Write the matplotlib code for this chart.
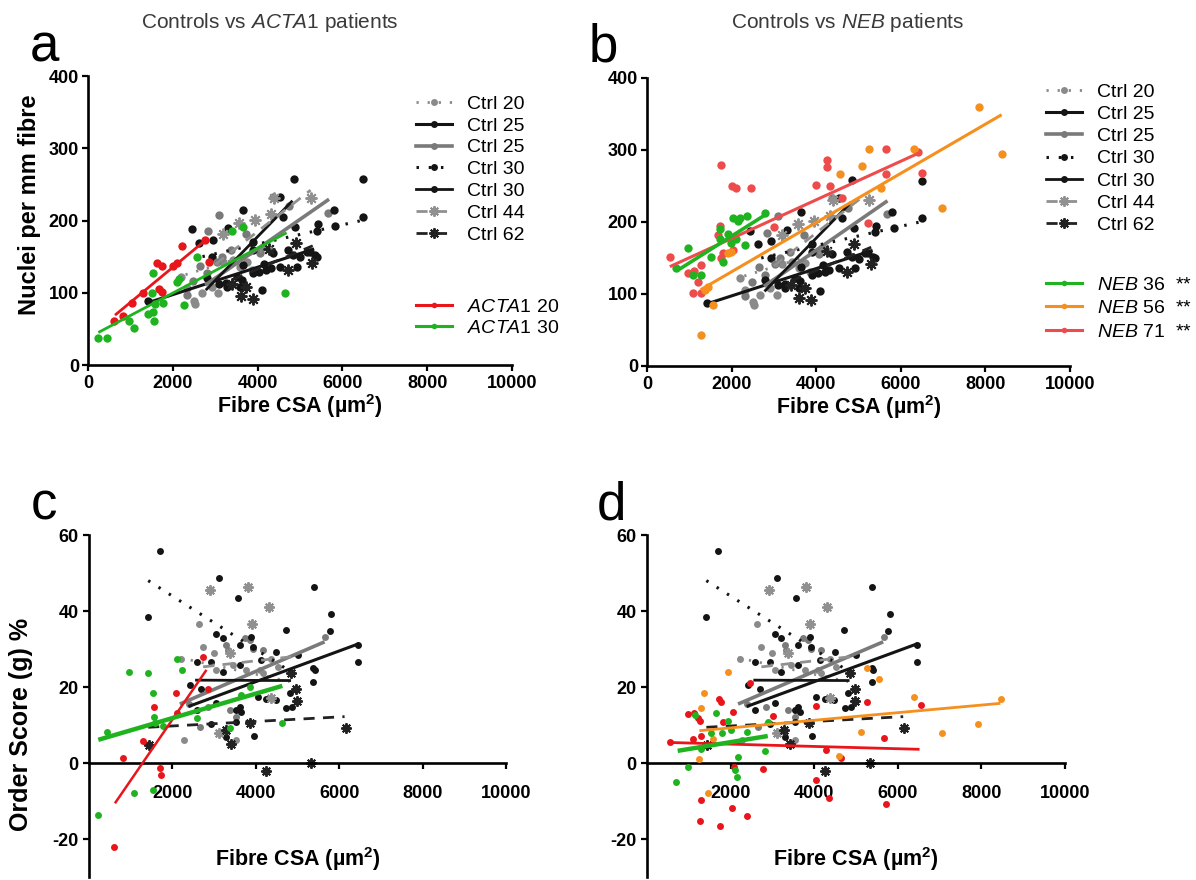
import matplotlib
matplotlib.use("Agg")
import matplotlib.pyplot as plt
from matplotlib.lines import Line2D

plt.rcParams['font.family'] = ['Liberation Sans', 'DejaVu Sans']
plt.rcParams['mathtext.fontset'] = 'custom'
plt.rcParams['mathtext.it'] = 'Liberation Sans:italic'
plt.rcParams['mathtext.rm'] = 'Liberation Sans'
plt.rcParams['mathtext.bf'] = 'Liberation Sans:bold'
plt.rcParams['axes.unicode_minus'] = False

# ---------------- Panel a/b : nuclei per mm fibre vs fibre CSA (controls) ----------------
nuc_ctrl20_x = [2188, 2327, 2507, 2526, 2680, 2916, 3073, 3191, 3427, 3584, 3741, 3859, 4134]
nuc_ctrl20_y = [122, 106, 89, 85, 99, 108, 99, 142, 145, 136, 143, 131, 164]
nuc_ctrl25k_x = [1423, 2445, 2625, 2924, 2940, 3254, 3270, 3506, 3585, 3647, 3899, 4040, 4095, 4197, 4308, 4528, 5000, 5236, 5393]
nuc_ctrl25k_y = [88, 188, 169, 150, 173, 114, 108, 122, 108, 138, 127, 129, 104, 131, 134, 136, 149, 157, 150]
nuc_ctrl25g_x = [2327, 2484, 2641, 2798, 2837, 3034, 3097, 3152, 3372, 3718, 4056, 4370, 4747, 5667]
nuc_ctrl25g_y = [97, 116, 137, 127, 185, 142, 208, 150, 159, 182, 155, 233, 220, 211]
nuc_ctrl30d_x = [3309, 3647, 3899, 4370, 4528, 4724, 4842, 4858, 4889, 5157, 5401, 5416, 5801, 5832, 6493, 6493]
nuc_ctrl30d_y = [189, 214, 159, 155, 233, 159, 152, 258, 191, 157, 186, 195, 214, 192, 257, 205]
nuc_ctrl30s_x = [2800, 3100, 3624, 3900, 4151, 4600, 4920, 5350]
nuc_ctrl30s_y = [120, 112, 118, 170, 140, 205, 136, 152]
nuc_ctrl44_x = [3191, 3560, 3938, 4315, 4394, 5251]
nuc_ctrl44_y = [182, 197, 201, 209, 231, 231]
nuc_ctrl62_x = [3400, 3600, 3726, 3883, 4260, 4724, 4905, 5290]
nuc_ctrl62_y = [112, 95, 108, 92, 160, 131, 169, 141]
# regression line ends: [x_start, x_end], [y_start, y_end]
nuc_fit_ctrl20 = ([2300, 4500], [125, 165])
nuc_fit_ctrl25k = ([1400, 5300], [86, 160])
nuc_fit_ctrl25g = ([2800, 5650], [112, 228])
nuc_fit_ctrl30d = ([2700, 6450], [150, 200])
nuc_fit_ctrl30s = ([2800, 4800], [105, 226])
nuc_fit_ctrl44 = ([3000, 5250], [139, 242])
nuc_fit_ctrl62 = ([3400, 5300], [118, 165])

# patients, nuclei
nuc_acta20_x = [613, 817, 1030, 1289, 1619, 1682, 1737, 1737, 1996, 2107, 2209, 2767, 2861]
nuc_acta20_y = [61, 68, 86, 99, 141, 105, 137, 101, 137, 141, 165, 173, 143]
nuc_fit_acta20 = ([637, 2798], [69, 174])
nuc_acta30_x = [244, 440, 975, 1085, 1407, 1501, 1525, 1525, 1564, 1580, 1776, 2091, 2138, 2264, 2562, 3388, 3663, 4653]
nuc_acta30_y = [38, 38, 61, 51, 70, 99, 74, 128, 61, 85, 86, 115, 119, 83, 150, 185, 191, 99]
nuc_fit_acta30 = ([244, 4684], [45, 183])

nuc_neb36_x = [682, 973, 1082, 1270, 1506, 1718, 1718, 1796, 1914, 1992, 2031, 2110, 2149, 2188, 2306, 2369, 2800]
nuc_neb36_y = [136, 164, 126, 126, 152, 190, 177, 145, 184, 171, 206, 177, 201, 205, 168, 209, 212]
nuc_fit_neb36 = ([700, 2850], [132, 212])
nuc_neb56_x = [1271, 1365, 1443, 1561, 1914, 1992, 4565, 5075, 5247, 5522, 6306, 6965, 7852, 8384]
nuc_neb56_y = [43, 106, 110, 85, 157, 159, 266, 278, 301, 247, 301, 219, 360, 294]
nuc_fit_neb56 = ([1271, 8384], [106, 349])
nuc_neb71_x = [541, 973, 1090, 1114, 1208, 1271, 1286, 1678, 1718, 1741, 1757, 1796, 2008, 2031, 2094, 2463,
               3012, 3992, 4251, 4251, 4322, 4620, 5231, 5639, 5655, 6400, 6500]
nuc_neb71_y = [151, 129, 101, 132, 116, 101, 140, 182, 194, 279, 150, 157, 250, 161, 247, 247,
               193, 251, 286, 276, 250, 234, 199, 301, 267, 297, 268]
nuc_fit_neb71 = ([540, 6470], [138, 297])

# ---------------- Panel c/d : order score (g) % vs fibre CSA (controls) ----------------
os_ctrl20_x = [2218, 2274, 2641, 2737, 2992, 3056, 3455, 3535, 3774, 4094, 4174, 4373, 4533]
os_ctrl20_y = [27.5, 6.1, 36.7, 30.6, 29.0, 24.5, 25.8, 6.1, 24.5, 24.5, 23.6, 27.5, 25.3]
os_ctrl25k_x = [2418, 3056, 3296, 3958, 4054, 4477, 4732, 4876, 5011, 5371, 5387, 5411, 5769, 5809, 6448, 6448]
os_ctrl25k_y = [20.5, 15.7, 6.9, 7.1, 17.5, 16.6, 14.4, 14.8, 28.4, 24.9, 46.2, 24.5, 34.8, 39.2, 31.0, 26.7]
os_ctrl25g_x = [2400, 2657, 2857, 3296, 3336, 3376, 3535, 3735, 3854, 3934, 4174, 5666]
os_ctrl25g_y = [15.5, 9.6, 14.8, 31.0, 29.7, 13.9, 12.2, 32.8, 32.4, 29.9, 29.7, 33.2]
os_ctrl30d_x = [1420, 1700, 2937, 3056, 3112, 3216, 3216, 3575, 3615, 3894, 3934, 4134, 4493, 4716]
os_ctrl30d_y = [38.5, 55.9, 26.7, 33.9, 48.8, 32.8, 24.0, 43.3, 31.0, 33.2, 30.6, 27.1, 29.3, 35.0]
os_ctrl30s_x = [2578, 2578, 2697, 2937, 3535, 3535, 3615, 3615, 3655, 4253, 4812, 5371]
os_ctrl30s_y = [13.9, 26.5, 19.6, 10.3, 10.9, 13.9, 14.8, 25.8, 13.5, 16.8, 18.5, 21.4]
os_ctrl44_x = [2913, 3120, 3376, 3814, 3910, 4317, 4373]
os_ctrl44_y = [45.5, 8.0, 28.9, 46.2, 36.7, 41.1, 17.0]
os_ctrl62_x = [1444, 3280, 3416, 3870, 4253, 4852, 4972, 4988, 5331, 6152]
os_ctrl62_y = [4.7, 8.7, 4.9, 10.4, -2.1, 23.6, 19.6, 16.4, -0.1, 9.1]
os_fit_ctrl20 = ([2178, 4812], [27.7, 21.4])
os_fit_ctrl25k = ([2418, 6448], [15.0, 31.3])
os_fit_ctrl25g = ([2218, 5610], [15.7, 31.7])
os_fit_ctrl30d = ([1420, 4700], [48.0, 25.0])
os_fit_ctrl30s = ([2578, 4812], [21.8, 21.7])
os_fit_ctrl44 = ([2737, 4892], [25.3, 28.0])
os_fit_ctrl62 = ([1420, 6129], [9.4, 12.2])

# patients, order score
os_acta20_x = [598, 806, 1285, 1556, 1700, 1724, 2083, 2099, 2737, 2857]
os_acta20_y = [-22.0, 1.2, 5.9, 14.8, -1.4, -3.2, 18.3, 13.1, 27.8, 19.6]
os_fit_acta20 = ([622, 2817], [-10.6, 24.5])
os_acta30_x = [223, 423, 966, 1077, 1404, 1524, 1524, 1564, 1580, 1780, 2099, 2242, 2578, 3376, 3655, 3854, 4636]
os_acta30_y = [-13.7, 8.2, 24.0, -8.0, 23.8, 18.3, -7.1, 12.0, 10.5, 9.7, 27.5, 24.5, 11.8, 9.1, 17.9, 20.1, 10.6]
os_fit_acta30 = ([223, 4636], [6.1, 20.3])

os_neb36_x = [694, 990, 1149, 1293, 1524, 1652, 1788, 1947, 2003, 2107, 2147, 2187, 2402, 2825, 2905]
os_neb36_y = [-4.9, -1.0, 12.6, 3.6, 8.0, 13.1, 7.8, 11.1, 8.7, -1.8, -3.6, 1.7, 8.2, 3.2, 10.9]
os_fit_neb36 = ([734, 2889], [3.2, 7.1])
os_neb56_x = [1253, 1285, 1373, 1468, 1588, 1947, 4604, 5115, 5275, 5562, 6376, 7057, 7912, 8471]
os_neb56_y = [1.0, 14.6, 18.5, -8.0, 6.2, 23.9, 1.8, 8.2, 24.9, 22.0, 17.5, 8.0, 10.3, 16.8]
os_fit_neb56 = ([1253, 8454], [8.5, 15.7])
os_neb71_x = [551, 974, 1109, 1125, 1229, 1269, 1269, 1293, 1293, 1732, 1748, 1764, 1812, 2027, 2051, 2091,
              2386, 2466, 2769, 3024, 4038, 4046, 4277, 4357, 4644, 5275, 5674, 5722, 6551]
os_neb71_y = [5.4, 12.9, 6.2, 13.2, 11.8, 11.1, -15.2, 7.2, -9.7, 16.8, -16.6, 16.1, 10.9, -11.9, 13.5, -1.1,
              -13.9, 21.0, -1.6, 12.4, -4.6, 15.0, 3.4, -9.3, 1.2, 16.1, 6.5, -10.8, 15.3]
os_fit_neb71 = ([535, 6520], [5.4, 3.6])

# labels
ctrl_labels = ['Ctrl 20', 'Ctrl 25', 'Ctrl 25', 'Ctrl 30', 'Ctrl 30', 'Ctrl 44', 'Ctrl 62']
acta_labels = ['$\\it{ACTA1}$ 20', '$\\it{ACTA1}$ 30']
neb_labels = ['$\\it{NEB}$ 36  **', '$\\it{NEB}$ 56  **', '$\\it{NEB}$ 71  **']
x_ticks = [0, 2000, 4000, 6000, 8000, 10000]

# ---------------- styles ----------------
GRAY = '#8a8a8a'
DGRAY = '#7a7a7a'
BLACK = '#141414'
GREEN = '#1fb41f'
RED = '#e8161b'
ORANGE = '#f5901e'
PINK = '#ee4c4c'
DOTS = (0, (0.8, 3.2))
DASH = (0, (4, 3))
ASTER = (8, 2, 0)

ctrl_styles = [
    dict(color=GRAY, ls=DOTS, lw=2.0, marker='o'),
    dict(color=BLACK, ls='-', lw=2.2, marker='o'),
    dict(color=DGRAY, ls='-', lw=2.6, marker='o'),
    dict(color=BLACK, ls=DOTS, lw=2.2, marker='o'),
    dict(color=BLACK, ls='-', lw=2.0, marker='o'),
    dict(color='#909090', ls=DASH, lw=2.0, marker=ASTER),
    dict(color='#222222', ls=DASH, lw=2.0, marker=ASTER),
]

nuc_ctrl = [(nuc_ctrl20_x, nuc_ctrl20_y, nuc_fit_ctrl20), (nuc_ctrl25k_x, nuc_ctrl25k_y, nuc_fit_ctrl25k),
            (nuc_ctrl25g_x, nuc_ctrl25g_y, nuc_fit_ctrl25g), (nuc_ctrl30d_x, nuc_ctrl30d_y, nuc_fit_ctrl30d),
            (nuc_ctrl30s_x, nuc_ctrl30s_y, nuc_fit_ctrl30s), (nuc_ctrl44_x, nuc_ctrl44_y, nuc_fit_ctrl44),
            (nuc_ctrl62_x, nuc_ctrl62_y, nuc_fit_ctrl62)]
os_ctrl = [(os_ctrl20_x, os_ctrl20_y, os_fit_ctrl20), (os_ctrl25k_x, os_ctrl25k_y, os_fit_ctrl25k),
           (os_ctrl25g_x, os_ctrl25g_y, os_fit_ctrl25g), (os_ctrl30d_x, os_ctrl30d_y, os_fit_ctrl30d),
           (os_ctrl30s_x, os_ctrl30s_y, os_fit_ctrl30s), (os_ctrl44_x, os_ctrl44_y, os_fit_ctrl44),
           (os_ctrl62_x, os_ctrl62_y, os_fit_ctrl62)]

W, H = 1196, 880
fig = plt.figure(figsize=(W / 100, H / 100), dpi=100)


def px_rect(l, t, r, b):
    return [l / W, 1 - b / H, (r - l) / W, (b - t) / H]


ax_a = fig.add_axes(px_rect(88, 76, 512, 365))
ax_b = fig.add_axes(px_rect(647, 78, 1070, 366))
ax_c = fig.add_axes(px_rect(89, 535, 506, 877))
ax_d = fig.add_axes(px_rect(647, 535, 1065, 877))


def draw_ctrl(ax, groups, ms):
    for (x, y, fit), st in zip(groups, ctrl_styles):
        is_ast = st['marker'] == ASTER
        ax.plot(x, y, ls='none', marker=st['marker'], color=st['color'],
                ms=ms + (2.5 if is_ast else 0), mew=1.4 if is_ast else 0, zorder=2)
    for (x, y, fit), st in zip(groups, ctrl_styles):
        ax.plot(fit[0], fit[1], color=st['color'], ls=st['ls'], lw=st['lw'], zorder=3)


def draw_pat(ax, x, y, fit, color, ms, lw):
    ax.plot(x, y, ls='none', marker='o', color=color, ms=ms, mew=0, zorder=4)
    ax.plot(fit[0], fit[1], color=color, lw=lw, zorder=5, solid_capstyle='butt')


def style(ax, ylim, yticks, cross_zero, pad_x, pad_y):
    for s in ['top', 'right']:
        ax.spines[s].set_visible(False)
    for s in ['left', 'bottom']:
        ax.spines[s].set_linewidth(1.9)
    ax.set_xlim(0, 10000)
    ax.set_ylim(*ylim)
    ax.set_yticks(yticks)
    if cross_zero:
        ax.spines['bottom'].set_position(('data', 0))
        ax.set_xticks(x_ticks[1:])
    else:
        ax.set_xticks(x_ticks)
    ax.tick_params(axis='both', direction='out', length=4.5, width=1.6, labelsize=13)
    ax.tick_params(axis='x', pad=pad_x)
    ax.tick_params(axis='y', pad=pad_y)
    for lbl in ax.get_xticklabels() + ax.get_yticklabels():
        lbl.set_fontweight('bold')


# panel a
draw_ctrl(ax_a, nuc_ctrl, 6)
draw_pat(ax_a, nuc_acta20_x, nuc_acta20_y, nuc_fit_acta20, RED, 6, 2.0)
draw_pat(ax_a, nuc_acta30_x, nuc_acta30_y, nuc_fit_acta30, GREEN, 6, 2.0)
# panel b
draw_ctrl(ax_b, nuc_ctrl, 6)
draw_pat(ax_b, nuc_neb71_x, nuc_neb71_y, nuc_fit_neb71, PINK, 6, 2.2)
draw_pat(ax_b, nuc_neb56_x, nuc_neb56_y, nuc_fit_neb56, ORANGE, 6, 2.2)
draw_pat(ax_b, nuc_neb36_x, nuc_neb36_y, nuc_fit_neb36, GREEN, 6, 2.6)
# panel c
draw_ctrl(ax_c, os_ctrl, 5)
draw_pat(ax_c, os_acta20_x, os_acta20_y, os_fit_acta20, RED, 5, 1.8)
draw_pat(ax_c, os_acta30_x, os_acta30_y, os_fit_acta30, GREEN, 5, 3.2)
# panel d
draw_ctrl(ax_d, os_ctrl, 5)
draw_pat(ax_d, os_neb71_x, os_neb71_y, os_fit_neb71, RED, 5, 2.0)
draw_pat(ax_d, os_neb56_x, os_neb56_y, os_fit_neb56, ORANGE, 5, 2.0)
draw_pat(ax_d, os_neb36_x, os_neb36_y, os_fit_neb36, GREEN, 5, 3.2)

style(ax_a, (0, 400), [0, 100, 200, 300, 400], False, 3, 2)
style(ax_b, (0, 400), [0, 100, 200, 300, 400], False, 3, 2)
style(ax_c, (-30, 60), [-20, 0, 20, 40, 60], True, 11.5, 3)
style(ax_d, (-30, 60), [-20, 0, 20, 40, 60], True, 11.5, 3)

# axis labels
xlab = 'Fibre CSA (\u00b5m$^{\\mathbf{2}}$)'
for ax, ycoord in [(ax_a, -0.142), (ax_b, -0.142), (ax_c, 0.052), (ax_d, 0.052)]:
    ax.set_xlabel(xlab, fontsize=15.5, fontweight='bold', va='center')
    ax.xaxis.set_label_coords(0.5, ycoord)
ax_a.set_ylabel('Nuclei per mm fibre', fontsize=17, fontweight='bold', va='center')
ax_a.yaxis.set_label_coords(-0.137, 0.554)
ax_c.set_ylabel('Order Score (g) %', fontsize=18, fontweight='bold', va='center')
ax_c.yaxis.set_label_coords(-0.162, 0.447)


# legends
def ctrl_handles():
    hs = []
    for st in ctrl_styles:
        is_ast = st['marker'] == ASTER
        hs.append(Line2D([], [], color=st['color'], ls=st['ls'], lw=st['lw'], marker=st['marker'],
                         ms=7.5 if is_ast else 5, mew=1.4 if is_ast else 0))
    return hs


def pat_handles(colors):
    return [Line2D([], [], color=c, lw=2.2, marker='o', ms=4, mew=0) for c in colors]


leg_kw = dict(frameon=False, loc='upper left', borderpad=0, borderaxespad=0, handlelength=1.85,
              handletextpad=0.75, fontsize=14, numpoints=1)
la1 = fig.legend(ctrl_handles(), ctrl_labels, bbox_to_anchor=(416 / W, 1 - 95 / H), labelspacing=0.22, **leg_kw)
la2 = fig.legend(pat_handles([RED, GREEN]), acta_labels, bbox_to_anchor=(416 / W, 1 - 298 / H), labelspacing=0.17, **leg_kw)
lb1 = fig.legend(ctrl_handles(), ctrl_labels, bbox_to_anchor=(1046 / W, 1 - 83 / H), labelspacing=0.24, **leg_kw)
lb2 = fig.legend(pat_handles([GREEN, ORANGE, PINK]), neb_labels, bbox_to_anchor=(1046 / W, 1 - 276 / H), labelspacing=0.30, **leg_kw)

# titles & panel letters
fig.text(270 / W, 1 - 23 / H, 'Controls vs $\\it{ACTA1}$ patients', ha='center', va='center', fontsize=15, color='#3a3a3a')
fig.text(848 / W, 1 - 23 / H, 'Controls vs $\\it{NEB}$ patients', ha='center', va='center', fontsize=15, color='#3a3a3a')
for letter, (x, y) in {'a': (44, 61), 'b': (603, 61), 'c': (44, 519), 'd': (611, 519)}.items():
    fig.text(x / W, 1 - y / H, letter, ha='center', va='baseline', fontsize=38)

fig.savefig('out.png', dpi=100)
